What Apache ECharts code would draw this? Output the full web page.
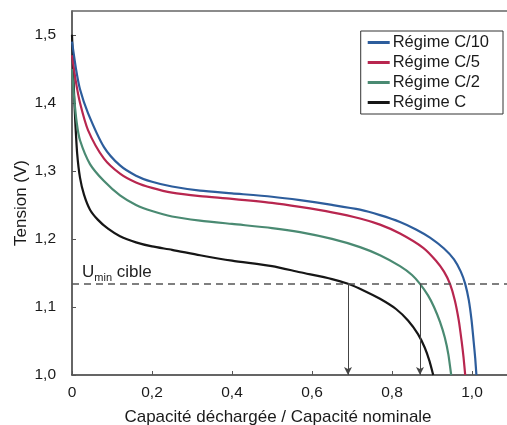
<!DOCTYPE html>
<html>
<head>
<meta charset="utf-8">
<script src="https://cdn.jsdelivr.net/npm/echarts@6/dist/echarts.min.js"></script>
<style>
  html, body { margin: 0; padding: 0; background: #fff; }
  #chart { width: 507px; height: 425px; }
</style>
</head>
<body>
<div id="chart"></div>
<script>
// Discharge curves: [fraction of nominal capacity, cell voltage (V)]
const seriesNames = ['Régime C/10', 'Régime C/5', 'Régime C/2', 'Régime C'];

const regimeC10 = [
  [0, 1.49], [0.01, 1.45], [0.02, 1.42], [0.04, 1.385], [0.08, 1.335], [0.12, 1.308],
  [0.16, 1.293], [0.2, 1.284], [0.25, 1.277], [0.32, 1.271], [0.4, 1.267], [0.5, 1.262],
  [0.57, 1.257], [0.65, 1.25], [0.72, 1.243], [0.77, 1.235], [0.82, 1.225], [0.86, 1.214],
  [0.895, 1.202], [0.93, 1.186], [0.955, 1.17], [0.972, 1.152], [0.983, 1.134],
  [0.992, 1.11], [0.999, 1.08], [1.004, 1.05], [1.008, 1.025], [1.011, 1.0]
];
const regimeC5 = [
  [0, 1.47], [0.01, 1.43], [0.02, 1.40], [0.04, 1.36], [0.08, 1.318], [0.12, 1.296],
  [0.16, 1.283], [0.2, 1.275], [0.25, 1.268], [0.32, 1.263], [0.4, 1.259], [0.5, 1.253],
  [0.57, 1.247], [0.65, 1.239], [0.72, 1.23], [0.77, 1.221], [0.82, 1.208], [0.878, 1.187],
  [0.91, 1.168], [0.93, 1.152], [0.945, 1.134], [0.957, 1.11], [0.967, 1.08],
  [0.974, 1.05], [0.979, 1.025], [0.983, 1.0]
];
const regimeC2 = [
  [0, 1.45], [0.005, 1.41], [0.012, 1.37], [0.02, 1.345], [0.045, 1.31], [0.08, 1.285],
  [0.12, 1.264], [0.16, 1.25], [0.2, 1.241], [0.25, 1.233], [0.32, 1.227], [0.4, 1.222],
  [0.5, 1.216], [0.57, 1.21], [0.65, 1.2], [0.72, 1.188], [0.77, 1.176], [0.82, 1.16],
  [0.85, 1.147], [0.87, 1.134], [0.89, 1.117], [0.905, 1.1], [0.92, 1.078], [0.932, 1.055],
  [0.941, 1.03], [0.948, 1.0]
];
const regimeC = [
  [0, 1.5], [0.004, 1.43], [0.008, 1.375], [0.013, 1.325], [0.02, 1.29], [0.03, 1.265],
  [0.045, 1.243], [0.065, 1.228], [0.09, 1.215], [0.12, 1.204], [0.16, 1.195], [0.2, 1.189],
  [0.25, 1.184], [0.32, 1.176], [0.4, 1.168], [0.5, 1.16], [0.57, 1.151], [0.65, 1.141],
  [0.69, 1.134], [0.73, 1.124], [0.77, 1.112], [0.81, 1.097], [0.84, 1.08], [0.865, 1.06],
  [0.882, 1.04], [0.894, 1.02], [0.903, 1.0]
];

// Target minimum voltage and the capacities where C and C/2 reach it
const uMinTarget = 1.134;
const cutoffCapacities = [0.69, 0.87];

const colors = ['#2d5d9c', '#b8264f', '#4a8a72', '#161616'];
const FONT = 'Liberation Sans, Arial, sans-serif';

function frLabel(v) {
  if (Math.abs(v) < 1e-9) return '0';
  return v.toFixed(1).replace('.', ',');
}

const chart = echarts.init(document.getElementById('chart'), null, { renderer: 'canvas' });

const curves = [regimeC10, regimeC5, regimeC2, regimeC];

const series = curves.map((data, i) => ({
  name: seriesNames[i],
  type: 'line',
  data: data,
  smooth: 0.25,
  showSymbol: false,
  symbol: 'none',
  lineStyle: { color: colors[i], width: 2.2 },
  itemStyle: { color: colors[i] },
  z: 5 - i
}));

// Reference line at the target minimum voltage and the arrows down to the capacity axis
series.push({
  name: 'umin',
  type: 'line',
  data: [],
  silent: true,
  markLine: {
    silent: true,
    animation: false,
    symbol: ['none', 'none'],
    data: [
      [
        { coord: [0, uMinTarget], lineStyle: { color: '#555', type: [7, 5], width: 1.5 },
          label: {
            show: true, position: 'insideStartTop', distance: [10, 3],
            formatter: '{u|U}{s|min}{c| cible}',
            rich: {
              u: { fontFamily: FONT, fontSize: 17, color: '#222', verticalAlign: 'bottom', lineHeight: 19 },
              s: { fontFamily: FONT, fontSize: 11, color: '#222', verticalAlign: 'bottom', lineHeight: 12, padding: [0, 0, -3, 0] },
              c: { fontFamily: FONT, fontSize: 17, color: '#222', verticalAlign: 'bottom', lineHeight: 19 }
            }
          } },
        { coord: [1.09, uMinTarget] }
      ]
    ].concat(cutoffCapacities.map(x => [
      { coord: [x, uMinTarget], symbol: 'none', lineStyle: { color: '#444', type: 'solid', width: 1 }, label: { show: false } },
      { coord: [x, 1.0], symbol: 'arrow', symbolSize: [6, 8] }
    ]))
  }
});

chart.setOption({
  animation: false,
  backgroundColor: '#fff',
  textStyle: { fontFamily: FONT },
  grid: { left: 72, right: -1, top: 11, bottom: 50, containLabel: false, outerBoundsMode: 'none' },
  legend: {
    data: seriesNames,
    orient: 'vertical',
    right: 4,
    top: 31,
    icon: 'rect',
    itemWidth: 22,
    itemHeight: 3,
    itemGap: 3,
    itemStyle: { borderWidth: 0 },
    padding: [3, 14, 3, 7],
    borderColor: '#333',
    borderWidth: 1,
    backgroundColor: '#fff',
    textStyle: { fontFamily: FONT, fontSize: 16.5, color: '#1a1a1a', padding: [0, 0, 0, -2] }
  },
  xAxis: [{
    type: 'value',
    min: 0,
    max: 1.09,
    interval: 0.2,
    name: 'Capacité déchargée / Capacité nominale',
    nameLocation: 'middle',
    nameGap: 34,
    nameMoveOverlap: false,
    nameTextStyle: { fontFamily: FONT, fontSize: 17, color: '#1a1a1a', padding: [0, 24, 0, 0] },
    axisLine: { show: true, lineStyle: { color: '#333', width: 1.5 } },
    axisTick: { show: true, inside: true, length: 4, lineStyle: { color: '#555' } },
    axisLabel: { showMaxLabel: false, fontFamily: FONT, fontSize: 15.5, color: '#1a1a1a', margin: 10, formatter: frLabel },
    splitLine: { show: false }
  }, {
    type: 'value',
    position: 'top',
    min: 0,
    max: 1.09,
    axisLine: { show: true, lineStyle: { color: '#666', width: 1.5 } },
    axisTick: { show: false },
    axisLabel: { show: false },
    splitLine: { show: false }
  }],
  yAxis: {
    type: 'value',
    min: 1.0,
    max: 1.535,
    interval: 0.1,
    name: 'Tension (V)',
    nameLocation: 'middle',
    nameRotate: 90,
    nameGap: 42,
    nameMoveOverlap: false,
    nameTextStyle: { fontFamily: FONT, fontSize: 17, color: '#1a1a1a', padding: [0, 20, 0, 0] },
    axisLine: { show: true, lineStyle: { color: '#333', width: 1.5 } },
    axisTick: { show: true, inside: true, length: 4, lineStyle: { color: '#555' } },
    axisLabel: { showMaxLabel: false, fontFamily: FONT, fontSize: 15.5, color: '#1a1a1a', margin: 16, formatter: frLabel },
    splitLine: { show: false }
  },
  series: series
});
</script>
</body>
</html>
